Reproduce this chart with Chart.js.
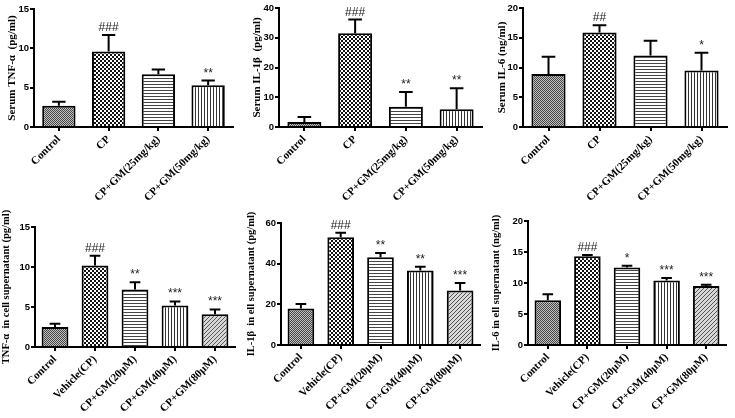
<!DOCTYPE html>
<html>
<head>
<meta charset="utf-8">
<script src="https://cdn.jsdelivr.net/npm/chart.js@4.4.0/dist/chart.umd.min.js"></script>
<style>
  body { margin: 0; background: #fff; }
  #wrap { position: relative; width: 735px; height: 418px; }
  canvas { position: absolute; }
</style>
</head>
<body>
<div id="wrap">
  <canvas id="c1" width="245" height="210" style="left:0;top:0"></canvas>
  <canvas id="c2" width="245" height="210" style="left:245px;top:0"></canvas>
  <canvas id="c3" width="245" height="210" style="left:490px;top:0"></canvas>
  <canvas id="c4" width="245" height="208" style="left:0;top:210px"></canvas>
  <canvas id="c5" width="245" height="208" style="left:245px;top:210px"></canvas>
  <canvas id="c6" width="245" height="208" style="left:490px;top:210px"></canvas>
</div>
<script>
// group names
const serumGroups = ['Control', 'CP', 'CP+GM(25mg/kg)', 'CP+GM(50mg/kg)'];
const cellGroups = ['Control', 'Vehicle(CP)', 'CP+GM(20μM)', 'CP+GM(40μM)', 'CP+GM(80μM)'];

// serum (in vivo)
const serumTnf = [2.7, 9.6, 6.7, 5.3];
const serumTnfErr = [0.5, 2.1, 0.6, 0.6];
const serumTnfMarks = ['', '###', '', '**'];

const serumIl1b = [1.7, 31.5, 6.8, 6.0];
const serumIl1bErr = [1.7, 4.6, 5.0, 7.0];
const serumIl1bMarks = ['', '###', '**', '**'];

const serumIl6 = [8.9, 15.9, 12.0, 9.5];
const serumIl6Err = [2.9, 1.2, 2.5, 3.0];
const serumIl6Marks = ['', '##', '', '*'];

// cell supernatant (in vitro)
const cellTnf = [2.5, 10.2, 7.2, 5.2, 4.1];
const cellTnfErr = [0.4, 1.2, 0.9, 0.5, 0.6];
const cellTnfMarks = ['', '###', '**', '***', '***'];

const cellIl1b = [18.0, 53.0, 43.2, 36.7, 26.8];
const cellIl1bErr = [2.2, 2.2, 2.0, 1.8, 3.7];
const cellIl1bMarks = ['', '###', '**', '**', '***'];

const cellIl6 = [7.2, 14.3, 12.5, 10.4, 9.5];
const cellIl6Err = [1.0, 0.2, 0.3, 0.4, 0.2];
const cellIl6Marks = ['', '###', '*', '***', '***'];

// y axis ranges: max and step
const yMaxes = [15, 40, 20, 15, 60, 20];
const ySteps = [5, 10, 5, 5, 20, 5];

// fill patterns
function makePattern(w, h, draw) {
  const c = document.createElement('canvas');
  c.width = w; c.height = h;
  const g = c.getContext('2d');
  draw(g);
  return g.createPattern(c, 'repeat');
}
const patControl = makePattern(2, 2, g => {
  g.fillStyle = '#c0c0c0'; g.fillRect(0, 0, 2, 2);
  g.fillStyle = '#474747'; g.fillRect(0, 0, 1, 1); g.fillRect(1, 1, 1, 1);
});
const patCP = makePattern(4, 4, g => {
  g.fillStyle = '#fff'; g.fillRect(0, 0, 4, 4);
  g.fillStyle = '#111'; g.fillRect(0, 0, 2, 2); g.fillRect(2, 2, 2, 2);
});
const patHoriz = makePattern(3, 3, g => {
  g.fillStyle = '#fff'; g.fillRect(0, 0, 3, 3);
  g.fillStyle = '#444'; g.fillRect(0, 0, 3, 1);
});
const patVert = makePattern(3, 3, g => {
  g.fillStyle = '#fff'; g.fillRect(0, 0, 3, 3);
  g.fillStyle = '#333'; g.fillRect(0, 0, 1, 3);
});
const patDiag = makePattern(4, 4, g => {
  g.fillStyle = '#d8d8d8'; g.fillRect(0, 0, 4, 4);
  g.fillStyle = '#555';
  for (let i = 0; i < 4; i++) g.fillRect(3 - i, i, 1, 1);
});

// draws upper error bar + significance marks
const errorBars = {
  id: 'errorBars',
  afterDatasetsDraw(chart, args, opts) {
    const ctx = chart.ctx;
    const meta = chart.getDatasetMeta(0);
    const vals = chart.data.datasets[0].data;
    const y = chart.scales.y;
    ctx.save();
    ctx.strokeStyle = '#000';
    ctx.lineWidth = 2;
    meta.data.forEach((bar, i) => {
      const top = y.getPixelForValue(vals[i] + opts.errors[i]);
      const half = bar.width * 0.2;
      ctx.beginPath();
      ctx.moveTo(bar.x, bar.y);
      ctx.lineTo(bar.x, top);
      ctx.moveTo(bar.x - half, top);
      ctx.lineTo(bar.x + half, top);
      ctx.stroke();
      if (opts.marks[i]) {
        ctx.fillStyle = '#222';
        ctx.font = '12px "Liberation Sans", Arial, sans-serif';
        ctx.textAlign = 'center';
        ctx.textBaseline = 'alphabetic';
        ctx.fillText(opts.marks[i], bar.x, top - 4);
      }
    });
    ctx.restore();
  }
};

function makeChart(id, labels, values, errors, marks, title, yMax, yStep, box) {
  const n = labels.length;
  const fills = [patControl, patCP, patHoriz, patVert, patDiag].slice(0, n);
  const canvas = document.getElementById(id);
  return new Chart(canvas, {
    type: 'bar',
    data: {
      labels: labels,
      datasets: [{
        data: values,
        backgroundColor: fills,
        borderColor: '#000',
        borderWidth: 2,
        barPercentage: 0.67,
        categoryPercentage: 1
      }]
    },
    options: {
      responsive: false,
      animation: false,
      events: [],
      layout: { padding: { top: box.top, right: canvas.width - box.right, left: 0, bottom: 0 } },
      plugins: {
        legend: { display: false },
        tooltip: { enabled: false },
        errorBars: { errors: errors, marks: marks }
      },
      scales: {
        x: {
          afterFit: s => { s.height = canvas.height - box.bottom; },
          grid: { display: true, offset: false, drawOnChartArea: false, drawTicks: true, tickLength: 4, color: '#000', lineWidth: 2 },
          border: { display: true, color: '#000', width: 2 },
          ticks: {
            autoSkip: false, minRotation: 45, maxRotation: 45, padding: 2, color: '#000',
            font: { family: '"Liberation Serif", "Times New Roman", serif', weight: 'bold', size: 11 }
          }
        },
        y: {
          min: 0, max: yMax,
          afterFit: s => { s.width = box.left; },
          grid: { display: true, drawOnChartArea: false, drawTicks: true, tickLength: 4, color: '#000', lineWidth: 2 },
          border: { display: true, color: '#000', width: 2 },
          ticks: {
            stepSize: yStep, padding: 1, color: '#000',
            font: { family: '"Liberation Sans", Arial, sans-serif', weight: 'bold', size: 9.5 }
          },
          title: {
            display: true, text: title, color: '#000', padding: { top: box.tpad, bottom: 0 },
            font: { family: '"Liberation Serif", "Times New Roman", serif', weight: 'bold', size: box.tsize }
          }
        }
      }
    },
    plugins: [errorBars]
  });
}

// chart area of each panel inside its canvas
const boxes = [
  { left: 34, right: 233, top: 9, bottom: 127, tpad: 6, tsize: 11 },
  { left: 34, right: 237, top: 8, bottom: 127, tpad: 6, tsize: 11 },
  { left: 33, right: 237, top: 8, bottom: 127, tpad: 6, tsize: 11 },
  { left: 35, right: 235, top: 17, bottom: 137, tpad: 0, tsize: 10.5 },
  { left: 36, right: 235, top: 13, bottom: 135, tpad: 0, tsize: 10.5 },
  { left: 38, right: 236, top: 11, bottom: 135, tpad: 0, tsize: 10.5 }
];

makeChart('c1', serumGroups, serumTnf, serumTnfErr, serumTnfMarks, 'Serum TNF-α  (pg/ml)', yMaxes[0], ySteps[0], boxes[0]);
makeChart('c2', serumGroups, serumIl1b, serumIl1bErr, serumIl1bMarks, 'Serum IL-1β  (pg/ml)', yMaxes[1], ySteps[1], boxes[1]);
makeChart('c3', serumGroups, serumIl6, serumIl6Err, serumIl6Marks, 'Serum IL-6 (ng/ml)', yMaxes[2], ySteps[2], boxes[2]);
makeChart('c4', cellGroups, cellTnf, cellTnfErr, cellTnfMarks, 'TNF-α  in cell supernatant (pg/ml)', yMaxes[3], ySteps[3], boxes[3]);
makeChart('c5', cellGroups, cellIl1b, cellIl1bErr, cellIl1bMarks, 'IL-1β  in ell supernatant (pg/ml)', yMaxes[4], ySteps[4], boxes[4]);
makeChart('c6', cellGroups, cellIl6, cellIl6Err, cellIl6Marks, 'IL-6 in ell supernatant (ng/ml)', yMaxes[5], ySteps[5], boxes[5]);
</script>
</body>
</html>
